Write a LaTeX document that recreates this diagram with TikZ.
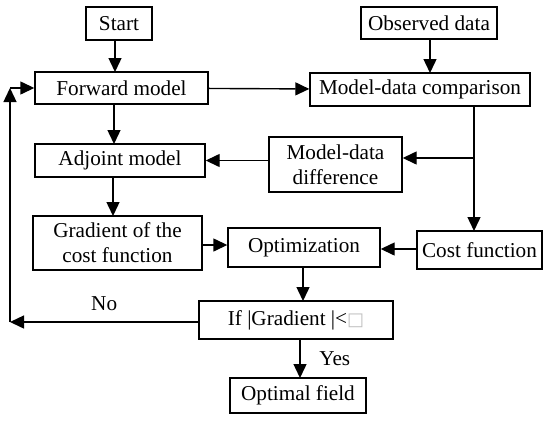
\documentclass[tikz,border=0pt]{standalone}
\usepackage{fontspec}
\setmainfont{Liberation Serif}
\newfontfamily\symfont{DejaVu Sans}
\usetikzlibrary{arrows.meta}
\begin{document}
\begin{tikzpicture}[x=0.5pt,y=-0.5pt, line width=0.7pt,
  every node/.style={font=\fontsize{10.6}{12.4}\selectfont},
  box/.style={draw, align=center, inner sep=0pt},
  arr/.style={-{Triangle[length=7pt,width=6.5pt]}}]
\useasboundingbox (0,0) rectangle (550,424);
\node[box, minimum width=33pt, minimum height=16.5pt] (start) at (119,23.5) {Start};
\node[box, minimum width=68pt, minimum height=16pt] (obs) at (429,23) {Observed data};
\node[box, minimum width=86.5pt, minimum height=16pt] (fwd) at (121.5,88) {Forward model};
\node[box, minimum width=110pt, minimum height=16.5pt] (cmp) at (420,89.5) {Model-data comparison};
\node[box, minimum width=85pt, minimum height=16.5pt] (adj) at (120,160.5) {Adjoint model};
\node[box, minimum width=66.5pt, minimum height=27.5pt] (diff) at (335.5,164.5) {Model-data\\difference};
\node[box, minimum width=84.5pt, minimum height=27pt] (grad) at (117.5,243) {Gradient of the\\cost function};
\node[box, minimum width=76pt, minimum height=19.5pt] (opt) at (304,247.5) {Optimization};
\node[box, minimum width=62.5pt, minimum height=19pt] (cost) at (479.5,250) {Cost function};
\node[box, minimum width=97pt, minimum height=19pt] (test) at (296,320) {If |Gradient |<{\symfont\color{black!25}\fontsize{9}{9}\selectfont □}};
\node[box, minimum width=68pt, minimum height=17.5pt] (final) at (298,395.5) {Optimal field};
\coordinate (split) at (474,158);
\coordinate (lowleft) at (10,322);
\coordinate (upleft) at (10,88);
% main chain
\draw[arr] (115,40) -- (115,72);
\draw[arr] (fwd) -- (cmp);
\draw[arr] (430,39) -- (430,73);
\draw (474,106) -- (split);
\draw[arr] (split) -- (474,231);
\draw[arr] (split) -- (diff.east |- split);
\draw[arr] (diff.west |- adj) -- (adj);
\draw[arr] (114,104) -- (114,144);
\draw[arr] (113,177) -- (113,216);
\draw[arr] (grad.east |- 0,245) -- (opt.west |- 0,245);
\draw[arr] (cost.west |- 0,249) -- (opt.east |- 0,249);
\draw[arr] (303,267) -- (303,301);
\draw[arr] (300,339) -- (300,378) node[midway, right=6pt] {Yes};
% loop back
\draw[arr] (test.west |- lowleft) -- (lowleft) node[pos=0.5, above=2pt] {No};
\draw[arr] (lowleft) -- (upleft);
\draw[arr] (upleft) -- (fwd);
\end{tikzpicture}
\end{document}
